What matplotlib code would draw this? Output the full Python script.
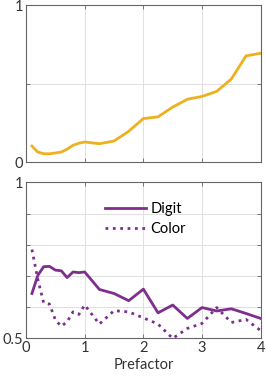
import matplotlib
matplotlib.use('agg')
import matplotlib.pyplot as plt

# Data
prefactor = [0.1, 0.2, 0.3, 0.4, 0.5, 0.6, 0.7, 0.8, 0.9, 1.0,
             1.25, 1.5, 1.75, 2.0, 2.25, 2.5, 2.75, 3.0, 3.25, 3.5, 3.75, 4.0]
top_values = [0.102, 0.064, 0.053, 0.053, 0.058, 0.064, 0.082, 0.107, 0.120, 0.128,
              0.117, 0.134, 0.196, 0.277, 0.288, 0.350, 0.400, 0.418, 0.450, 0.529, 0.676, 0.693]
digit = [0.644, 0.702, 0.730, 0.731, 0.719, 0.717, 0.695, 0.713, 0.711, 0.713,
         0.657, 0.644, 0.621, 0.658, 0.582, 0.607, 0.564, 0.599, 0.588, 0.595, 0.580, 0.564]
color = [0.785, 0.690, 0.614, 0.610, 0.559, 0.539, 0.553, 0.585, 0.577, 0.607,
         0.546, 0.589, 0.585, 0.566, 0.546, 0.500, 0.532, 0.548, 0.599, 0.551, 0.561, 0.525]

yellow = '#EDB120'
purple = '#7E2F8E'

plt.rcParams['font.family'] = ['Lato', 'DejaVu Sans']
plt.rcParams['font.size'] = 10.5

fig = plt.figure(figsize=(2.66, 3.85), dpi=100)
ax1 = fig.add_axes([0.098, 0.579, 0.882, 0.408])
ax2 = fig.add_axes([0.098, 0.121, 0.882, 0.405])


def style(ax):
    ax.set_xlim(0, 4)
    ax.grid(True, color='0.88', lw=0.7)
    ax.set_axisbelow(True)
    for s in ax.spines.values():
        s.set_color('0.4')
        s.set_linewidth(0.8)
    ax.tick_params(direction='in', length=3, width=0.6, color='0.4',
                   top=True, right=True, labelsize=10.5, labelcolor='0.2', pad=2)


ax1.plot(prefactor, top_values, color=yellow, lw=2)
style(ax1)
ax1.set_ylim(0, 1)
ax1.set_yticks([0, 0.5, 1])
ax1.set_yticklabels(['0', '', '1'])
ax1.set_xticks([0, 1, 2, 3, 4])
ax1.set_xticklabels([])

ax2.plot(prefactor, digit, color=purple, lw=2, label='Digit')
ax2.plot(prefactor, color, color=purple, lw=2, ls=':', label='Color')
style(ax2)
ax2.set_ylim(0.5, 1)
ax2.set_yticks([0.5, 0.6, 0.7, 0.8, 0.9, 1])
ax2.set_yticklabels(['0.5', '', '', '', '', '1'])
ax2.set_xticks([0, 1, 2, 3, 4])
ax2.set_xlabel('Prefactor', color='0.2', labelpad=2)
ax2.legend(loc='upper center', bbox_to_anchor=(0.51, 0.96), frameon=False,
           handlelength=2.8, handletextpad=0.3, labelspacing=0.4, fontsize=10.5)

fig.savefig('out.png', dpi=100)
